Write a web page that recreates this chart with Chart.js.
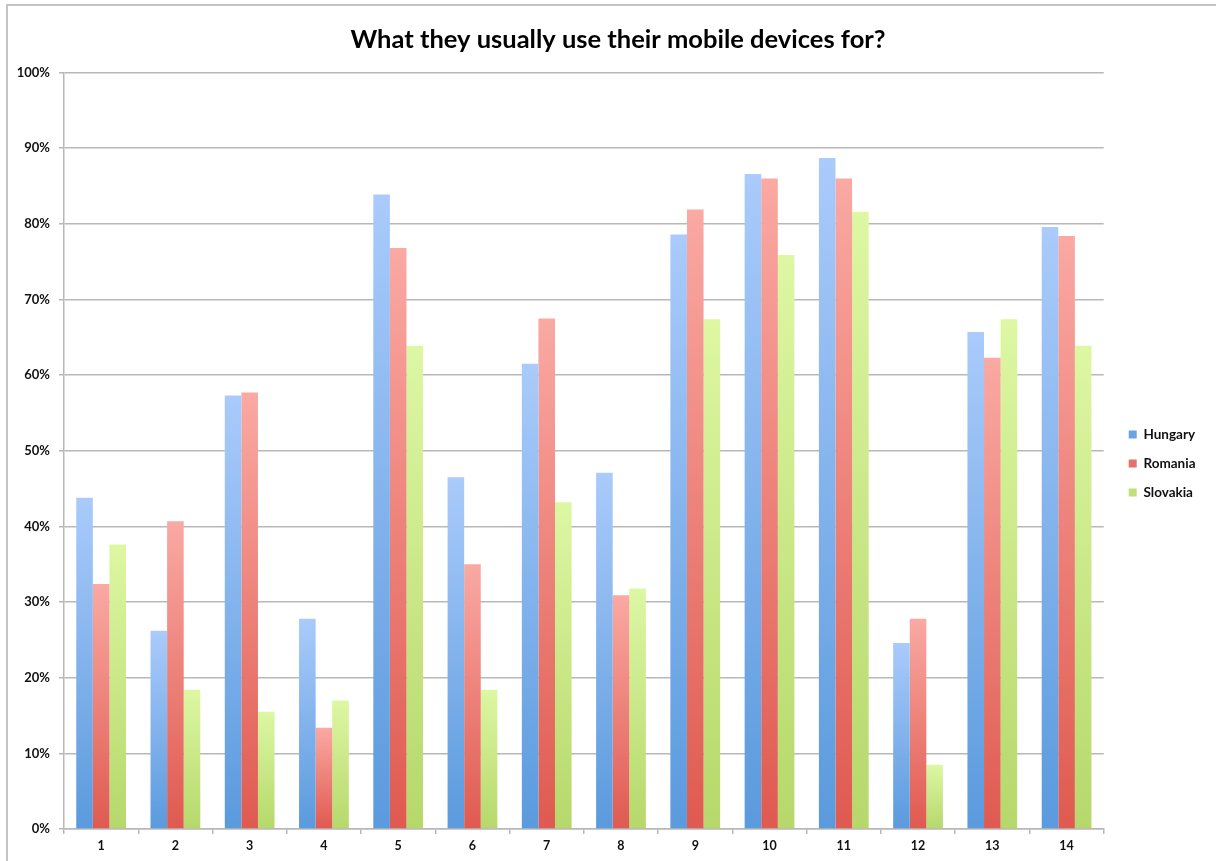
<!DOCTYPE html>
<html>
<head>
<meta charset="utf-8">
<script src="https://cdn.jsdelivr.net/npm/chart.js@4.4.1/dist/chart.umd.min.js"></script>
<style>
  html, body { margin: 0; padding: 0; background: #fff; overflow: hidden; }
  #wrap { position: relative; width: 1216px; height: 861px; overflow: hidden; }
  #frame { position: absolute; left: 6px; top: 4px; right: 0; bottom: 0; border-left: 2px solid #c4c4c4; border-top: 2px solid #c4c4c4; }
  canvas { position: absolute; left: 0; top: 0; }
</style>
</head>
<body>
<div id="wrap">
  <div id="frame"></div>
  <canvas id="mycanvas" width="1216" height="861"></canvas>
</div>
<script>
var categories = ["1", "2", "3", "4", "5", "6", "7", "8", "9", "10", "11", "12", "13", "14"];
var hungary  = [43.8, 26.2, 57.3, 27.8, 83.9, 46.5, 61.5, 47.1, 78.6, 86.6, 88.7, 24.6, 65.7, 79.6];
var romania  = [32.4, 40.7, 57.7, 13.4, 76.8, 35.0, 67.5, 30.9, 81.9, 86.0, 86.0, 27.8, 62.3, 78.4];
var slovakia = [37.6, 18.4, 15.5, 17.0, 63.9, 18.4, 43.2, 31.8, 67.4, 75.9, 81.6,  8.5, 67.4, 63.9];
var yTicks = [0, 10, 20, 30, 40, 50, 60, 70, 80, 90, 100];

// each bar gets its own top-light / bottom-dark gradient
function barFill(light, dark) {
  return function(context) {
    var chart = context.chart;
    var y = chart.scales.y;
    if (!y || context.raw === undefined) return dark;
    var top = y.getPixelForValue(context.raw);
    var bottom = y.getPixelForValue(0);
    if (!isFinite(top) || !isFinite(bottom) || bottom - top < 1) return dark;
    var g = chart.ctx.createLinearGradient(0, top, 0, bottom);
    g.addColorStop(0, light);
    g.addColorStop(1, dark);
    return g;
  };
}

// small offsets so legend and title sit where the original put them
var boxNudge = {
  id: 'boxNudge',
  afterLayout: function(chart) {
    var lg = chart.legend;
    lg.left += 9.5; lg.right += 9.5;
    lg.top += 23; lg.bottom += 23;
    var t = chart.titleBlock;
    if (t) { t.left += 20; t.right += 20; }
  }
};

var fontFamily = "Lato, 'Open Sans', sans-serif";

var chartdata = {
  labels: categories,
  datasets: [
    { label: "Hungary",  data: hungary,  backgroundColor: barFill("#aacbfb", "#5a9add") },
    { label: "Romania",  data: romania,  backgroundColor: barFill("#faa9a3", "#df5a50") },
    { label: "Slovakia", data: slovakia, backgroundColor: barFill("#ddf7a3", "#b6d86b") }
  ]
};

var ctx = document.getElementById("mycanvas");

var BarGraph = new Chart(ctx, {
  type: 'bar',
  data: chartdata,
  plugins: [boxNudge],
  options: {
    responsive: false,
    animation: false,
    devicePixelRatio: 1,
    layout: { padding: { top: 24, right: 20, bottom: 4, left: 0 } },
    datasets: { bar: { categoryPercentage: 0.67, barPercentage: 1.0 } },
    plugins: {
      title: {
        display: true,
        text: "What they usually use their mobile devices for?",
        color: "#000",
        font: { family: fontFamily, size: 25.5, weight: "bold" },
        padding: { top: 0, bottom: 18 }
      },
      legend: {
        position: 'right',
        labels: {
          color: "#111",
          boxWidth: 8,
          boxHeight: 8,
          padding: 15.5,
          font: { family: fontFamily, size: 13.5, weight: "bold" },
          generateLabels: function(chart) {
            var cols = ["#6aa4e6", "#e8706a", "#c0e07a"];
            return chart.data.datasets.map(function(ds, i) {
              return { text: ds.label, fillStyle: cols[i], strokeStyle: cols[i], lineWidth: 0, datasetIndex: i, fontColor: "#111" };
            });
          }
        }
      },
      tooltip: { enabled: false }
    },
    scales: {
      x: {
        grid: { display: true, drawOnChartArea: false, drawTicks: true, tickLength: 5, color: "#b8b8b8", lineWidth: 1.5, offset: true },
        border: { color: "#b8b8b8", width: 1.5 },
        ticks: { color: "#111", padding: 4, font: { family: fontFamily, size: 12.5, weight: "bold" } }
      },
      y: {
        min: 0,
        max: 100,
        afterFit: function(scale) { scale.width = 64; },
        afterBuildTicks: function(scale) { scale.ticks = yTicks.map(function(v) { return { value: v }; }); },
        grid: { color: "#b8b8b8", lineWidth: 1.5, tickLength: 5 },
        border: { color: "#b8b8b8", width: 1.5 },
        ticks: {
          color: "#111",
          padding: 9,
          font: { family: fontFamily, size: 13, weight: "bold" },
          callback: function(v) { return v + "%"; }
        }
      }
    }
  }
});
</script>
</body>
</html>
